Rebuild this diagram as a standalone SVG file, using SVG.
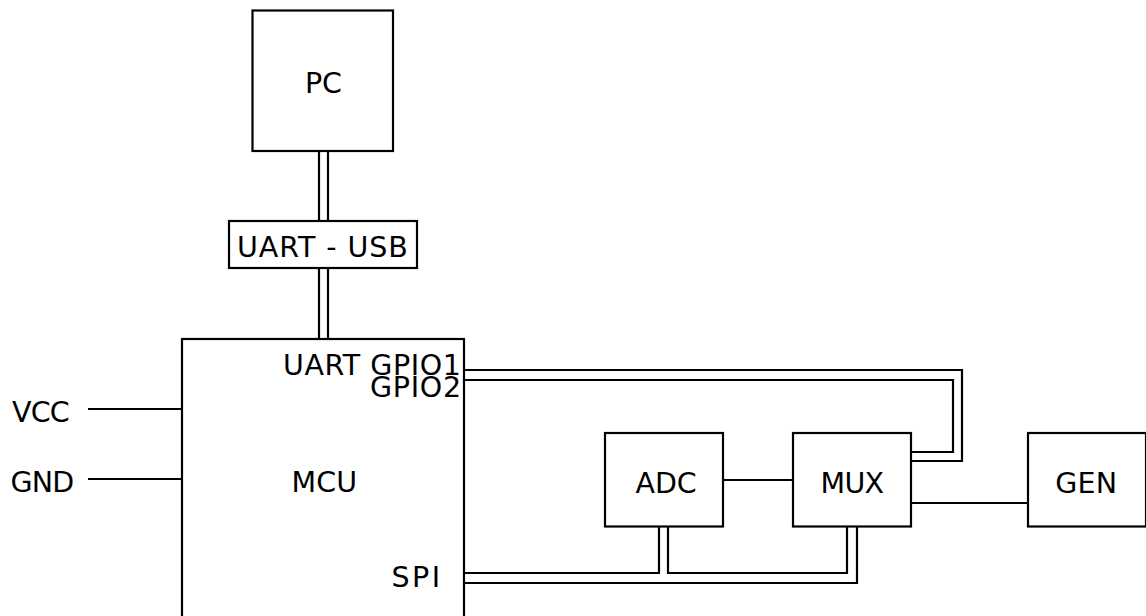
<svg xmlns="http://www.w3.org/2000/svg" width="1146" height="616" viewBox="0 0 1146 616">
<style>
.box{fill:#fff;stroke:#000;stroke-width:2.2}
.w{fill:none;stroke:#000;stroke-width:2.2}
text{font-family:"DejaVu Sans",Verdana,sans-serif;font-size:28.5px;fill:#000}
</style>
<rect width="1146" height="616" fill="#fff"/>
<g id="connectors">
<path class="w" d="M319,151V221M328,151V221"/>
<path class="w" d="M319,268V339M328,268V339"/>
<path class="w" d="M464,370H962V461H911"/>
<path class="w" d="M464,380H953V452H911"/>
<path class="w" d="M464,573H659V527"/>
<path class="w" d="M668,527V573H847V527"/>
<path class="w" d="M464,583H857V527"/>
<path class="w" d="M723,480H793"/>
<path class="w" d="M911,503H1028"/>
<path class="w" d="M88,409H182"/>
<path class="w" d="M88,479H182"/>
</g>
<g id="pc"><rect class="box" x="252.5" y="10.5" width="140.5" height="140.5"/><text x="305" y="93" textLength="37" lengthAdjust="spacing">PC</text></g>
<g id="uart-usb"><rect class="box" x="229" y="221" width="188" height="47"/><text x="237" y="257" textLength="170.8" lengthAdjust="spacing">UART - USB</text></g>
<g id="mcu"><rect class="box" x="182" y="339" width="282" height="300"/><text x="291.5" y="492" textLength="65.5" lengthAdjust="spacing">MCU</text><text x="283" y="375" textLength="177.8" lengthAdjust="spacing">UART GPIO1</text><text x="370" y="396.5" textLength="91.1" lengthAdjust="spacing">GPIO2</text><text x="391.5" y="587" textLength="48.6" lengthAdjust="spacing">SPI</text></g>
<g id="vcc"><text x="12" y="422" textLength="57.7" lengthAdjust="spacing">VCC</text></g>
<g id="gnd"><text x="10.5" y="491.5" textLength="63.8" lengthAdjust="spacing">GND</text></g>
<g id="adc"><rect class="box" x="605" y="433" width="118" height="93.5"/><text x="635.6" y="492.5" textLength="61.1" lengthAdjust="spacing">ADC</text></g>
<g id="mux"><rect class="box" x="793" y="433" width="118" height="93.5"/><text x="820.6" y="492.5" textLength="63.5" lengthAdjust="spacing">MUX</text></g>
<g id="gen"><rect class="box" x="1028" y="433" width="118" height="93.5"/><text x="1055.2" y="492.5" textLength="61.9" lengthAdjust="spacing">GEN</text></g>
</svg>
